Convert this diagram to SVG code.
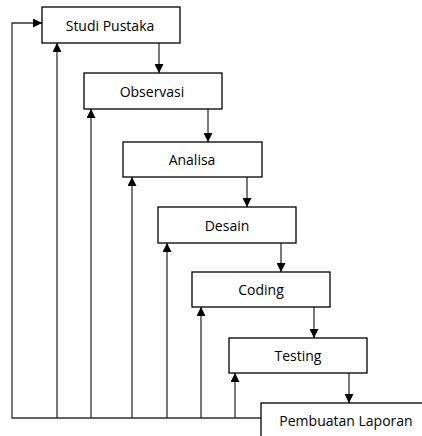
<svg xmlns="http://www.w3.org/2000/svg" width="422" height="436" viewBox="0 0 422 436">
<style>
.box{fill:#fff;stroke:#000;stroke-width:1.3}
.lbl{font-family:"Open Sans","Liberation Sans",sans-serif;font-size:14px;fill:#000;text-anchor:middle;dominant-baseline:central}
.ln{fill:none;stroke:#333;stroke-width:1.3}
</style>
<defs>
<marker id="ah" viewBox="0 0 10 10" refX="10" refY="5" markerWidth="9" markerHeight="9" markerUnits="userSpaceOnUse" orient="auto"><path d="M0,0 L10,5 L0,10 z" fill="#000"/></marker>
</defs>
<g id="connectors">
<path class="ln" d="M159,43 V73" marker-end="url(#ah)"/>
<path class="ln" d="M208,109 V142" marker-end="url(#ah)"/>
<path class="ln" d="M247,177 V207" marker-end="url(#ah)"/>
<path class="ln" d="M281,243 V272" marker-end="url(#ah)"/>
<path class="ln" d="M314,307 V338" marker-end="url(#ah)"/>
<path class="ln" d="M349,373 V403" marker-end="url(#ah)"/>
<path class="ln" d="M261,418 H12 V23 H42" marker-end="url(#ah)"/>
<path class="ln" d="M57,418 V43" marker-end="url(#ah)"/>
<path class="ln" d="M91,418 V109" marker-end="url(#ah)"/>
<path class="ln" d="M132,418 V177" marker-end="url(#ah)"/>
<path class="ln" d="M167,418 V243" marker-end="url(#ah)"/>
<path class="ln" d="M201,418 V307" marker-end="url(#ah)"/>
<path class="ln" d="M235,418 V373" marker-end="url(#ah)"/>
</g>
<g id="studi-pustaka"><rect class="box" x="42" y="7" width="138" height="36"/><text class="lbl" x="110" y="25">Studi Pustaka</text></g>
<g id="observasi"><rect class="box" x="84" y="73" width="138" height="36"/><text class="lbl" x="152" y="91">Observasi</text></g>
<g id="analisa"><rect class="box" x="123" y="142" width="139" height="35"/><text class="lbl" x="192" y="159">Analisa</text></g>
<g id="desain"><rect class="box" x="158" y="207" width="138" height="36"/><text class="lbl" x="227" y="225">Desain</text></g>
<g id="coding"><rect class="box" x="192" y="272" width="138" height="35"/><text class="lbl" x="261" y="289">Coding</text></g>
<g id="testing"><rect class="box" x="229" y="338" width="138" height="35"/><text class="lbl" x="298" y="355">Testing</text></g>
<g id="pembuatan-laporan"><rect class="box" x="261" y="403" width="170" height="40"/><text class="lbl" x="346" y="420">Pembuatan Laporan</text></g>
</svg>
